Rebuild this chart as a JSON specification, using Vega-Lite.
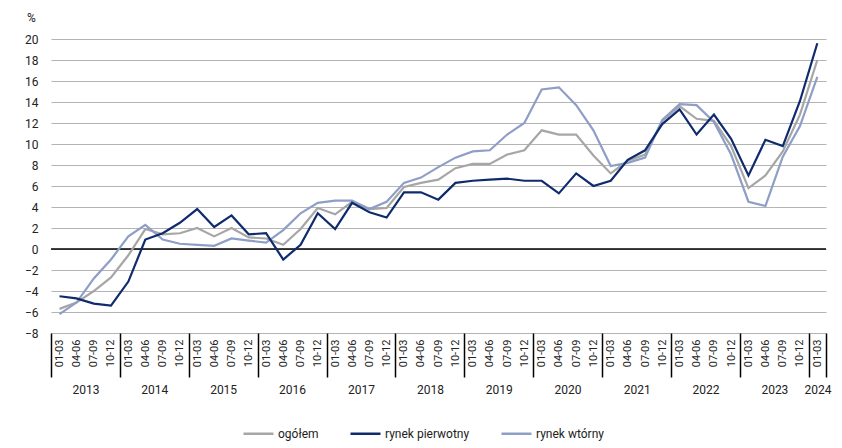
{
  "$schema": "https://vega.github.io/schema/vega-lite/v6.json",
  "width": 775,
  "height": 294,
  "autosize": {"type": "none"},
  "padding": {"left": 51, "top": 39, "right": 16, "bottom": 115},
  "config": {
    "font": "Roboto",
    "view": {"stroke": null},
    "axis": {"labelColor": "#222222", "titleColor": "#222222"}
  },
  "data": {
    "values": [
      {"kw": "2013-02-15", "ogółem": -5.7, "rynek pierwotny": -4.5, "rynek wtórny": -6.2},
      {"kw": "2013-05-16", "ogółem": -5.1, "rynek pierwotny": -4.7, "rynek wtórny": -5.1},
      {"kw": "2013-08-16", "ogółem": -4.0, "rynek pierwotny": -5.2, "rynek wtórny": -2.8},
      {"kw": "2013-11-15", "ogółem": -2.7, "rynek pierwotny": -5.4, "rynek wtórny": -1.0},
      {"kw": "2014-02-15", "ogółem": -0.6, "rynek pierwotny": -3.1, "rynek wtórny": 1.2},
      {"kw": "2014-05-16", "ogółem": 1.9, "rynek pierwotny": 0.9, "rynek wtórny": 2.3},
      {"kw": "2014-08-16", "ogółem": 1.4, "rynek pierwotny": 1.5, "rynek wtórny": 0.9},
      {"kw": "2014-11-15", "ogółem": 1.5, "rynek pierwotny": 2.5, "rynek wtórny": 0.5},
      {"kw": "2015-02-15", "ogółem": 2.0, "rynek pierwotny": 3.8, "rynek wtórny": 0.4},
      {"kw": "2015-05-16", "ogółem": 1.2, "rynek pierwotny": 2.1, "rynek wtórny": 0.3},
      {"kw": "2015-08-16", "ogółem": 2.0, "rynek pierwotny": 3.2, "rynek wtórny": 1.0},
      {"kw": "2015-11-15", "ogółem": 1.1, "rynek pierwotny": 1.4, "rynek wtórny": 0.8},
      {"kw": "2016-02-15", "ogółem": 1.0, "rynek pierwotny": 1.5, "rynek wtórny": 0.6},
      {"kw": "2016-05-16", "ogółem": 0.4, "rynek pierwotny": -1.0, "rynek wtórny": 1.8},
      {"kw": "2016-08-16", "ogółem": 1.9, "rynek pierwotny": 0.4, "rynek wtórny": 3.4},
      {"kw": "2016-11-15", "ogółem": 3.9, "rynek pierwotny": 3.4, "rynek wtórny": 4.4},
      {"kw": "2017-02-15", "ogółem": 3.3, "rynek pierwotny": 1.9, "rynek wtórny": 4.6},
      {"kw": "2017-05-16", "ogółem": 4.5, "rynek pierwotny": 4.4, "rynek wtórny": 4.6},
      {"kw": "2017-08-16", "ogółem": 3.8, "rynek pierwotny": 3.5, "rynek wtórny": 3.8},
      {"kw": "2017-11-15", "ogółem": 3.9, "rynek pierwotny": 3.0, "rynek wtórny": 4.5},
      {"kw": "2018-02-15", "ogółem": 5.9, "rynek pierwotny": 5.4, "rynek wtórny": 6.3},
      {"kw": "2018-05-16", "ogółem": 6.3, "rynek pierwotny": 5.4, "rynek wtórny": 6.8},
      {"kw": "2018-08-16", "ogółem": 6.6, "rynek pierwotny": 4.7, "rynek wtórny": 7.8},
      {"kw": "2018-11-15", "ogółem": 7.7, "rynek pierwotny": 6.3, "rynek wtórny": 8.7},
      {"kw": "2019-02-15", "ogółem": 8.1, "rynek pierwotny": 6.5, "rynek wtórny": 9.3},
      {"kw": "2019-05-16", "ogółem": 8.1, "rynek pierwotny": 6.6, "rynek wtórny": 9.4},
      {"kw": "2019-08-16", "ogółem": 9.0, "rynek pierwotny": 6.7, "rynek wtórny": 10.9},
      {"kw": "2019-11-15", "ogółem": 9.4, "rynek pierwotny": 6.5, "rynek wtórny": 12.0},
      {"kw": "2020-02-15", "ogółem": 11.3, "rynek pierwotny": 6.5, "rynek wtórny": 15.2},
      {"kw": "2020-05-16", "ogółem": 10.9, "rynek pierwotny": 5.3, "rynek wtórny": 15.4},
      {"kw": "2020-08-16", "ogółem": 10.9, "rynek pierwotny": 7.2, "rynek wtórny": 13.7},
      {"kw": "2020-11-15", "ogółem": 8.9, "rynek pierwotny": 6.0, "rynek wtórny": 11.3},
      {"kw": "2021-02-15", "ogółem": 7.2, "rynek pierwotny": 6.5, "rynek wtórny": 7.9},
      {"kw": "2021-05-16", "ogółem": 8.4, "rynek pierwotny": 8.5, "rynek wtórny": 8.2},
      {"kw": "2021-08-16", "ogółem": 9.0, "rynek pierwotny": 9.4, "rynek wtórny": 8.7},
      {"kw": "2021-11-15", "ogółem": 12.2, "rynek pierwotny": 11.9, "rynek wtórny": 12.3},
      {"kw": "2022-02-15", "ogółem": 13.6, "rynek pierwotny": 13.3, "rynek wtórny": 13.8},
      {"kw": "2022-05-16", "ogółem": 12.4, "rynek pierwotny": 10.9, "rynek wtórny": 13.7},
      {"kw": "2022-08-16", "ogółem": 12.2, "rynek pierwotny": 12.8, "rynek wtórny": 12.1},
      {"kw": "2022-11-15", "ogółem": 9.8, "rynek pierwotny": 10.5, "rynek wtórny": 9.0},
      {"kw": "2023-02-15", "ogółem": 5.8, "rynek pierwotny": 7.0, "rynek wtórny": 4.5},
      {"kw": "2023-05-16", "ogółem": 7.0, "rynek pierwotny": 10.4, "rynek wtórny": 4.1},
      {"kw": "2023-08-16", "ogółem": 9.3, "rynek pierwotny": 9.8, "rynek wtórny": 8.8},
      {"kw": "2023-11-15", "ogółem": 12.8, "rynek pierwotny": 14.1, "rynek wtórny": 11.7},
      {"kw": "2024-02-15", "ogółem": 18.0, "rynek pierwotny": 19.6, "rynek wtórny": 16.4}
    ]
  },
  "transform": [
    {"fold": ["ogółem", "rynek wtórny", "rynek pierwotny"], "as": ["seria", "wartosc"]}
  ],
  "layer": [
    {
      "data": {"values": [{}]},
      "mark": {"type": "rule", "color": "#000000", "strokeWidth": 1.5},
      "encoding": {
        "y": {
          "datum": 0,
          "type": "quantitative",
          "scale": {"domain": [-8, 20], "nice": false, "zero": false},
          "axis": {
            "values": [-8, -6, -4, -2, 0, 2, 4, 6, 8, 10, 12, 14, 16, 18, 20],
            "labelOverlap": false,
            "grid": true,
            "gridColor": "#b4b4b4",
            "gridWidth": 1,
            "domain": false,
            "ticks": false,
            "labelPadding": 13,
            "labelFontSize": 12,
            "title": "%",
            "titleAngle": 0,
            "titleX": -20,
            "titleY": -22,
            "titleAlign": "center",
            "titleBaseline": "middle",
            "titleFontWeight": "normal",
            "titleFontSize": 12
          }
        }
      }
    },
    {
      "mark": {"type": "line", "opacity": 0},
      "encoding": {
        "x": {
          "field": "kw",
          "type": "temporal",
          "scale": {"type": "utc", "domain": [{"year": 2013, "month": 1, "date": 1, "utc": true}, {"year": 2024, "month": 4, "date": 1, "utc": true}]},
          "axis": {
            "orient": "bottom",
            "title": null,
            "values": [
              {"year": 2013, "month": 1, "date": 1, "utc": true},
              {"year": 2014, "month": 1, "date": 1, "utc": true},
              {"year": 2015, "month": 1, "date": 1, "utc": true},
              {"year": 2016, "month": 1, "date": 1, "utc": true},
              {"year": 2017, "month": 1, "date": 1, "utc": true},
              {"year": 2018, "month": 1, "date": 1, "utc": true},
              {"year": 2019, "month": 1, "date": 1, "utc": true},
              {"year": 2020, "month": 1, "date": 1, "utc": true},
              {"year": 2021, "month": 1, "date": 1, "utc": true},
              {"year": 2022, "month": 1, "date": 1, "utc": true},
              {"year": 2023, "month": 1, "date": 1, "utc": true},
              {"year": 2024, "month": 1, "date": 1, "utc": true},
              {"year": 2024, "month": 4, "date": 1, "utc": true}
            ],
            "labelExpr": "utcmonth(datum.value) == 3 ? '' : '' + utcyear(datum.value)",
            "labelOffset": {"condition": {"test": "utcyear(datum.value) == 2024", "value": 8.6}, "value": 34.4},
            "labelAngle": 0,
            "labelAlign": "center",
            "labelFlush": false,
            "labelOverlap": false,
            "labelBound": false,
            "labelFontSize": 12,
            "labelPadding": 7,
            "ticks": true,
            "tickSize": 44,
            "tickColor": "#000000",
            "tickWidth": 1.5,
            "domain": false,
            "grid": false
          }
        },
        "y": {
          "field": "wartosc",
          "type": "quantitative",
          "scale": {"domain": [-8, 20], "nice": false, "zero": false},
          "axis": {
            "values": [-8, -6, -4, -2, 0, 2, 4, 6, 8, 10, 12, 14, 16, 18, 20],
            "labelOverlap": false,
            "grid": true,
            "gridColor": "#b4b4b4",
            "gridWidth": 1,
            "domain": false,
            "ticks": false,
            "labelPadding": 13,
            "labelFontSize": 12,
            "title": "%",
            "titleAngle": 0,
            "titleX": -20,
            "titleY": -22,
            "titleAlign": "center",
            "titleBaseline": "middle",
            "titleFontWeight": "normal",
            "titleFontSize": 12
          }
        },
        "detail": {"field": "seria"}
      }
    },
    {
      "mark": {"type": "line", "strokeWidth": 2.2},
      "encoding": {
        "x": {
          "field": "kw",
          "type": "temporal",
          "scale": {"type": "utc", "domain": [{"year": 2013, "month": 1, "date": 1, "utc": true}, {"year": 2024, "month": 4, "date": 1, "utc": true}]},
          "axis": {
            "orient": "bottom",
            "title": null,
            "values": [
              {"year": 2013, "month": 2, "date": 15, "utc": true}, {"year": 2013, "month": 5, "date": 16, "utc": true}, {"year": 2013, "month": 8, "date": 16, "utc": true}, {"year": 2013, "month": 11, "date": 15, "utc": true},
              {"year": 2014, "month": 2, "date": 15, "utc": true}, {"year": 2014, "month": 5, "date": 16, "utc": true}, {"year": 2014, "month": 8, "date": 16, "utc": true}, {"year": 2014, "month": 11, "date": 15, "utc": true},
              {"year": 2015, "month": 2, "date": 15, "utc": true}, {"year": 2015, "month": 5, "date": 16, "utc": true}, {"year": 2015, "month": 8, "date": 16, "utc": true}, {"year": 2015, "month": 11, "date": 15, "utc": true},
              {"year": 2016, "month": 2, "date": 15, "utc": true}, {"year": 2016, "month": 5, "date": 16, "utc": true}, {"year": 2016, "month": 8, "date": 16, "utc": true}, {"year": 2016, "month": 11, "date": 15, "utc": true},
              {"year": 2017, "month": 2, "date": 15, "utc": true}, {"year": 2017, "month": 5, "date": 16, "utc": true}, {"year": 2017, "month": 8, "date": 16, "utc": true}, {"year": 2017, "month": 11, "date": 15, "utc": true},
              {"year": 2018, "month": 2, "date": 15, "utc": true}, {"year": 2018, "month": 5, "date": 16, "utc": true}, {"year": 2018, "month": 8, "date": 16, "utc": true}, {"year": 2018, "month": 11, "date": 15, "utc": true},
              {"year": 2019, "month": 2, "date": 15, "utc": true}, {"year": 2019, "month": 5, "date": 16, "utc": true}, {"year": 2019, "month": 8, "date": 16, "utc": true}, {"year": 2019, "month": 11, "date": 15, "utc": true},
              {"year": 2020, "month": 2, "date": 15, "utc": true}, {"year": 2020, "month": 5, "date": 16, "utc": true}, {"year": 2020, "month": 8, "date": 16, "utc": true}, {"year": 2020, "month": 11, "date": 15, "utc": true},
              {"year": 2021, "month": 2, "date": 15, "utc": true}, {"year": 2021, "month": 5, "date": 16, "utc": true}, {"year": 2021, "month": 8, "date": 16, "utc": true}, {"year": 2021, "month": 11, "date": 15, "utc": true},
              {"year": 2022, "month": 2, "date": 15, "utc": true}, {"year": 2022, "month": 5, "date": 16, "utc": true}, {"year": 2022, "month": 8, "date": 16, "utc": true}, {"year": 2022, "month": 11, "date": 15, "utc": true},
              {"year": 2023, "month": 2, "date": 15, "utc": true}, {"year": 2023, "month": 5, "date": 16, "utc": true}, {"year": 2023, "month": 8, "date": 16, "utc": true}, {"year": 2023, "month": 11, "date": 15, "utc": true},
              {"year": 2024, "month": 2, "date": 15, "utc": true}
            ],
            "labelExpr": "['01-03', '04-06', '07-09', '10-12'][floor(utcmonth(datum.value) / 3)]",
            "labelAngle": 270,
            "labelFlush": false,
            "labelOverlap": false,
            "labelBound": false,
            "labelFontSize": 11,
            "labelPadding": 6,
            "ticks": false,
            "domain": false,
            "grid": false
          }
        },
        "y": {
          "field": "wartosc",
          "type": "quantitative",
          "scale": {"domain": [-8, 20], "nice": false, "zero": false},
          "axis": {
            "values": [-8, -6, -4, -2, 0, 2, 4, 6, 8, 10, 12, 14, 16, 18, 20],
            "labelOverlap": false,
            "grid": true,
            "gridColor": "#b4b4b4",
            "gridWidth": 1,
            "domain": false,
            "ticks": false,
            "labelPadding": 13,
            "labelFontSize": 12,
            "title": "%",
            "titleAngle": 0,
            "titleX": -20,
            "titleY": -22,
            "titleAlign": "center",
            "titleBaseline": "middle",
            "titleFontWeight": "normal",
            "titleFontSize": 12
          }
        },
        "color": {
          "field": "seria",
          "type": "nominal",
          "scale": {"domain": ["ogółem", "rynek pierwotny", "rynek wtórny"], "range": ["#a6a6a6", "#0f2b6e", "#8e9ec6"]},
          "legend": {
            "orient": "none",
            "legendX": 191,
            "legendY": 378,
            "direction": "horizontal",
            "title": null,
            "symbolType": "stroke",
            "symbolSize": 900,
            "symbolStrokeWidth": 2.5,
            "labelFontSize": 12,
            "labelOffset": 3,
            "columnPadding": 26,
            "labelColor": "#222222"
          }
        }
      }
    }
  ],
  "resolve": {"axis": {"x": "independent"}}
}
